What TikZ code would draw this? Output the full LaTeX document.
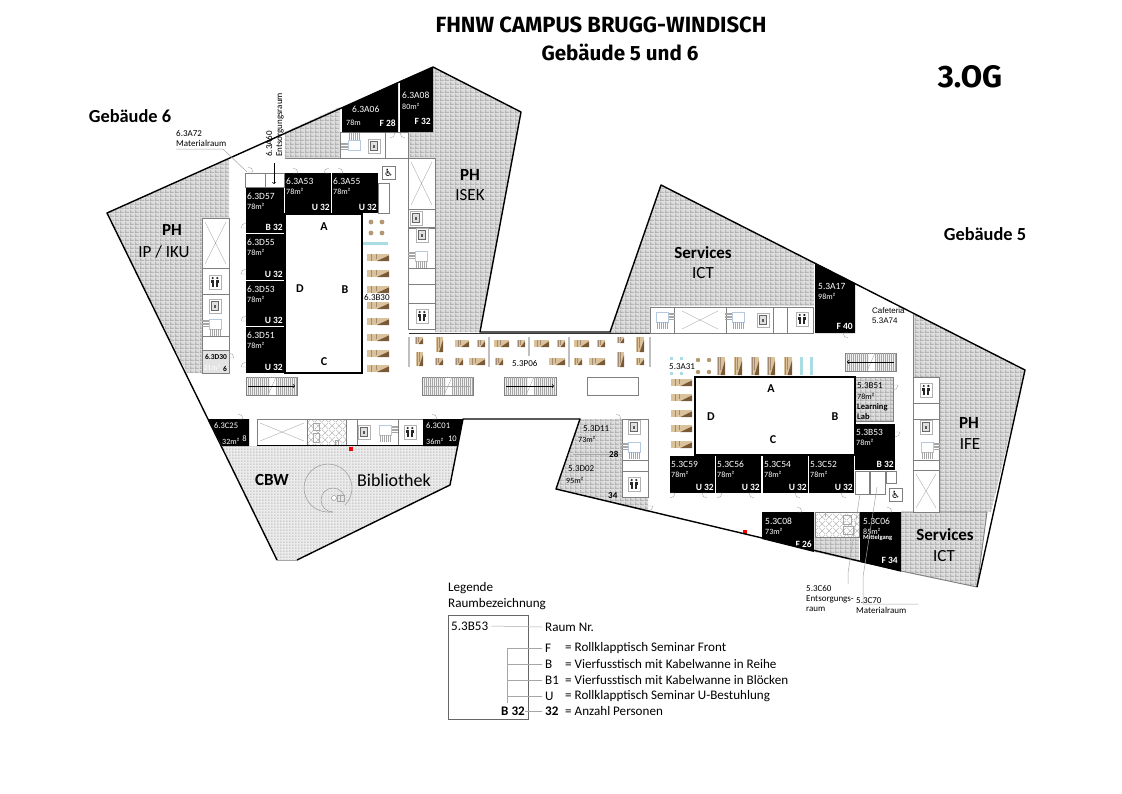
\documentclass[tikz,border=0pt]{standalone}
\usepackage{fontspec}
\setmainfont{Carlito}
\newfontfamily\headfont{Fira Sans}
\newfontfamily\arialfont{Liberation Sans}
\newfontfamily\symfont{DejaVu Sans}
\usepackage{xcolor}
\usetikzlibrary{patterns,arrows}

\definecolor{wallgray}{HTML}{7F7F7F}
\definecolor{hatchbase}{HTML}{DEDEDE}
\definecolor{hatchline}{HTML}{A6A6A6}
\definecolor{tableA}{HTML}{D9C29C}
\definecolor{tableB}{HTML}{7A5A36}
\definecolor{glassblue}{HTML}{A9DCE3}
\definecolor{stairblue}{HTML}{B7C9DE}

\pgfdeclarepatternformonly{brickfill}{\pgfpointorigin}{\pgfqpoint{5pt}{4pt}}{\pgfqpoint{5pt}{4pt}}{
  \pgfsetlinewidth{0.9pt}
  \pgfpathmoveto{\pgfqpoint{0pt}{1pt}}\pgfpathlineto{\pgfqpoint{5pt}{1pt}}
  \pgfpathmoveto{\pgfqpoint{1pt}{0pt}}\pgfpathlineto{\pgfqpoint{1pt}{4pt}}
  \pgfusepath{stroke}}
\pgfdeclarepatternformonly{dotfill}{\pgfpointorigin}{\pgfqpoint{2.5pt}{2.5pt}}{\pgfqpoint{2.5pt}{2.5pt}}{
  \pgfpathrectangle{\pgfqpoint{0.4pt}{0.4pt}}{\pgfqpoint{1.2pt}{1.2pt}}
  \pgfusepath{fill}}
\pgfdeclarepatternformonly{crossfill}{\pgfpointorigin}{\pgfqpoint{7pt}{7pt}}{\pgfqpoint{7pt}{7pt}}{
  \pgfsetlinewidth{0.4pt}
  \pgfpathmoveto{\pgfqpoint{0pt}{0pt}}\pgfpathlineto{\pgfqpoint{7pt}{7pt}}
  \pgfpathmoveto{\pgfqpoint{0pt}{7pt}}\pgfpathlineto{\pgfqpoint{7pt}{0pt}}
  \pgfusepath{stroke}}

% black seminar room with its three labels
\newcommand{\blackroom}[8]{
  \fill[roomfill] (#2,#3) rectangle (#4,#5);
  \node[roomlabel] (#1) at (#2+1,#3+8) {#6};
  \node[roomarea] (#1area) at (#2+1,#3+18) {#7};
  \node[roomseat] (#1seat) at (#4-1,#5-6) {#8};
}
\newcommand{\doorarc}[4]{\draw[doorline,shift={(#1,#2)},xscale=#3,yscale=#4] (0,0) -- (5,0) arc (0:90:5);}
\newcommand{\liftbox}[2]{
  \draw[iconbox] (#1-6,#2-7) rectangle (#1+6,#2+7);
  \draw[gray!80!black,line width=0.9pt,fill=gray!25] (#1-3.5,#2-4.5) rectangle (#1+3.5,#2+4.5);
  \fill[gray!70!black] (#1-1.2,#2-1.5) rectangle (#1+1.2,#2+1.5);
}
\newcommand{\wcbox}[2]{
  \draw[iconbox] (#1-6,#2-7) rectangle (#1+6,#2+7);
  \foreach \dx in {-2.3,2.3}{
    \fill[black!85] (#1+\dx,#2-4) circle (1.2);
    \fill[black!85] (#1+\dx-1.6,#2-2.5) rectangle (#1+\dx+1.6,#2+1);
    \fill[black!85] (#1+\dx-1,#2+1) rectangle (#1+\dx+1,#2+4.5);
  }
}
\newcommand{\voidbox}[4]{
  \draw[wall,fill=white] (#1,#2) rectangle (#3,#4);
  \draw[thinline] (#1+3,#2+4) -- (#3-3,#4-4) (#1+3,#4-4) -- (#3-3,#2+4);
}
% table top with the dark wedge of its photo
\newcommand{\tabletop}[4]{
  \fill[tableA] (#1,#2) rectangle ++(#3,#4);
  \fill[tableB] (#1+0.45*#3,#2+#4) -- (#1+#3,#2+0.2*#4) -- (#1+#3,#2+#4) -- cycle;
  \draw[tableB!70,line width=0.3pt] (#1+0.2*#3,#2) -- (#1+0.2*#3,#2+#4) (#1+0.4*#3,#2) -- (#1+0.4*#3,#2+0.7*#4);
}
% stairs in the service cores, #3 and #4 are 1 or -1 for the mirror
\newcommand{\corestair}[4]{
  \begin{scope}[shift={(#1,#2)},xscale=#3,yscale=#4]
    \foreach \i in {1,2.5,4,5.5,7}{\draw[thinline] (-13,\i) -- (-6,\i);}
    \draw[stairblue,fill=white] (-6,0) rectangle (6,10);
    \foreach \i in {-5,-3,-1,1,3,5}{\draw[thinline] (\i,10) -- (\i,17);}
  \end{scope}
}
% long flight of stairs, #5 is the style of the middle line
\newcommand{\longstair}[5]{
  \draw[stairline,fill=gray!12] (#1,#2) rectangle (#3,#4);
  \foreach \i in {2,4,...,50}{\draw[thinline] (#1+\i,#2) -- (#1+\i,#4);}
  \fill[white] (#1+24,#2+0.5) rectangle (#1+30,#4-0.5);
  \draw[thinline] (#1+22,#4) -- (#1+30,#2);
  \draw[line width=0.6pt,>=to,#5] (#1+2,#2+9) -- (#3-2,#2+9);
}

\begin{document}
\begin{tikzpicture}[
    x=1pt, y=-1pt,
    brick/.style={fill=hatchbase, postaction={pattern=brickfill, pattern color=hatchline}},
    dotted fill/.style={fill=hatchbase!60!white, postaction={pattern=dotfill, pattern color=hatchline}},
    roomfill/.style={fill=black},
    roomlabel/.style={anchor=west, text=white, font=\fontsize{9.5}{9.5}\selectfont, inner sep=0pt},
    roomarea/.style={anchor=west, text=white, font=\fontsize{8}{8}\selectfont, inner sep=0pt},
    roomseat/.style={anchor=east, text=white, font=\fontsize{9.5}{9.5}\selectfont\bfseries, inner sep=0pt},
    darklabel/.style={anchor=west, font=\fontsize{9}{9}\selectfont, inner sep=0pt},
    wall/.style={draw=wallgray, line width=0.9pt},
    thinline/.style={draw=gray!70, line width=0.35pt},
    stairline/.style={draw=gray, line width=0.7pt},
    outline/.style={draw=black, line width=1.4pt, line join=round},
    doorline/.style={draw=gray!70, line width=0.4pt},
    iconbox/.style={draw=gray!60, line width=0.6pt, fill=white},
    leader/.style={draw=gray!70, line width=0.5pt},
    bigname/.style={font=\fontsize{17}{17}\selectfont\bfseries, inner sep=0pt},
    usename/.style={font=\fontsize{17}{17}\selectfont, inner sep=0pt},
    legendtext/.style={anchor=west, font=\fontsize{13.1}{14}\selectfont, inner sep=0pt},
    smalltext/.style={anchor=west, font=\fontsize{9}{10}\selectfont, inner sep=0pt},
    letter/.style={font=\fontsize{12}{12}\selectfont\bfseries, inner sep=0pt}
]
    \useasboundingbox (0,0) rectangle (1122,793);

    % --- hatched user areas
    \fill[brick] (107,213) -- (229,159) -- (229,373) -- (187,373) -- cycle;
    \fill[brick] (285,132) -- (340,107) -- (340,158) -- (285,158) -- cycle;
    \fill[brick] (433,67) -- (521,112) -- (480,332) -- (435,332) -- (435,158) -- (408,158) -- (408,132) -- (433,132) -- cycle;
    \fill[brick] (661,185) -- (814,263) -- (814,306) -- (650,306) -- (650,333) -- (610,333) -- cycle;
    \fill[brick] (913,313) -- (1025,370) -- (991,512) -- (939,512) -- (939,377) -- (913,377) -- cycle;
    \fill[brick] (901,512) -- (987,512) -- (977,587) -- (901,571) -- cycle;
    \fill[brick] (815,538) -- (859,538) -- (859,562) -- (815,552) -- cycle;
    \fill[brick] (580,419) -- (622,419) -- (622,497) -- (648,497) -- (648,512) -- (556,489) -- cycle;
    \fill[dotted fill] (222,446) -- (458,446) -- (450,485) -- (297,560) -- (277,560) -- cycle;
    \fill[brick] (855,377) rectangle (893,421);
    \draw[wall] (855,377) rectangle (893,421);
    \draw[wall] (987,512) -- (977,587) -- (901,571) (901,512) -- (987,512);

    % --- service core Gebaeude 6 west
    \voidbox{202}{218}{229}{268}
    \draw[wall,fill=white] (202,268) rectangle (229,294);
    \draw[wall,fill=white] (202,294) rectangle (229,350);
    \wcbox{215}{282}
    \liftbox{215}{306}
    \corestair{215}{319}{1}{1}
    \draw[wall] (202,336) -- (229,336);
    \fill[gray!22] (202,350) rectangle (229,373);
    \draw[wall] (202,350) rectangle (229,373);
    \node[font=\fontsize{7.5}{8}\selectfont\bfseries,inner sep=0pt] (d30) at (216,357) {6.3D30};
    \node[font=\fontsize{7.5}{8}\selectfont,text=white,inner sep=0pt] (d30area) at (212,368) {21m²};
    \node[font=\fontsize{7.5}{8}\selectfont\bfseries,inner sep=0pt] (d30seat) at (225,369) {6};

    % --- service core Gebaeude 6 east
    \voidbox{408}{158}{435}{209}
    \draw[wall,fill=white] (408,209) rectangle (435,227);
    \draw[wall,fill=white] (408,228) rectangle (435,329);
    \liftbox{416}{218}
    \liftbox{422}{235}
    \corestair{421}{251}{1}{1}
    \draw[wall] (408,268) -- (435,268) (408,284) -- (435,284) (408,303) -- (435,303);
    \wcbox{422}{316}

    % --- north core
    \draw[wall,fill=white] (340,132) rectangle (408,158);
    \corestair{354}{150}{1}{-1}
    \liftbox{374}{146}
    \draw[wall] (385,132) -- (385,158);
    \draw[wall] (285,158) -- (340,158);

    % --- seminar rooms Gebaeude 6
    \fill[roomfill] (342,108) -- (398,82) -- (398,132) -- (342,132) -- cycle;
    \node[roomlabel] (a06) at (352,109) {6.3A06};
    \node[roomarea] (a06area) at (346,123) {78m};
    \node[roomseat] (a06seat) at (396,123) {F 28};
    \fill[roomfill] (400,81) -- (433,67) -- (433,132) -- (400,132) -- cycle;
    \node[roomlabel] (a08) at (402,95) {6.3A08};
    \node[roomarea] (a08area) at (402,106) {80m²};
    \node[roomseat] (a08seat) at (431,121) {F 32};

    \draw[wall] (245,173) rectangle (265,187) (265,173) rectangle (284,187);
    \blackroom{d57}{246}{188}{284}{233}{6.3D57}{78m²}{B 32}
    \blackroom{d55}{246}{234}{284}{280}{6.3D55}{78m²}{U 32}
    \blackroom{d53}{246}{281}{284}{326}{6.3D53}{78m²}{U 32}
    \blackroom{d51}{246}{327}{284}{373}{6.3D51}{78m²}{U 32}
    \blackroom{a53}{285}{173}{331}{213}{6.3A53}{78m²}{U 32}
    \blackroom{a55}{332}{173}{378}{213}{6.3A55}{78m²}{U 32}
    \draw[wall] (378,183) rectangle (389,213);
    \draw[wall,fill=white] (382,166) rectangle (395,179);
    \node[font=\symfont\fontsize{10}{10}\selectfont,inner sep=0pt] (wheel6) at (388.5,172.5) {♿};
    \draw[black,line width=1.2pt,fill=white] (285,214) rectangle (362,373);
    \node[letter] (ga) at (324,227) {A};
    \node[letter] (gd) at (300,289) {D};
    \node[letter] (gb) at (345,290) {B};
    \node[letter] (gc) at (324,362) {C};

    % --- south band Gebaeude 6
    \fill[roomfill] (208,419) -- (249,419) -- (249,446) -- (222,446) -- cycle;
    \node[roomlabel,font=\fontsize{8.5}{8.5}\selectfont] (c25) at (214,426) {6.3C25};
    \node[roomarea] (c25area) at (222,441) {32m²};
    \node[roomseat,font=\fontsize{8.5}{8.5}\selectfont] (c25seat) at (247,439) {8};
    \voidbox{257}{419}{307}{445}
    \draw[wall,pattern=crossfill,pattern color=gray!70] (307,419) rectangle (346,445);
    \draw[wall] (346,419) rectangle (423,445) (357,419) -- (357,445) (398,419) -- (398,445);
    \draw[thinline] (313,423) rectangle (319,430) (313,433) rectangle (319,442) (335,440) rectangle (338,445);
    \liftbox{364}{432}
    \corestair{385}{425}{-1}{1}
    \wcbox{410}{432}
    \draw[black,line width=0.8pt] (257,445.5) -- (423,445.5);
    \fill[roomfill] (423,419) -- (463,419) -- (458,446) -- (423,446) -- cycle;
    \node[roomlabel,font=\fontsize{8.5}{8.5}\selectfont] (c01) at (426,426) {6.3C01};
    \node[roomarea] (c01area) at (426,441) {36m²};
    \node[roomseat,font=\fontsize{8.5}{8.5}\selectfont] (c01seat) at (457,439) {10};
    \fill[red] (349,447) rectangle (353,451);
    \fill[red] (743,530) rectangle (747,534);

    % --- spiral stair
    \draw[gray!80,line width=0.5pt] (345,505) arc (45:-270:24) -- (333,512);
    \draw[gray!80,line width=0.5pt] (333,512) arc (90:360:12);
    \draw[gray!80,fill=white,line width=0.5pt] (334,498) circle (2.5);
    \draw[thinline] (337,495) rectangle (344,501) (340,495) -- (340,501);

    % --- furniture
    \foreach \y in {254,270,286,302,318,334,350,365}{
      \tabletop{367}{\y}{22}{7}
    }
    \foreach \x/\y in {371/222,382/222,371/233,382/233}{
      \fill[tableA!60!tableB] (\x,\y) circle (2.4);
    }
    \fill[glassblue] (363,241.5) rectangle (388,244.5);
    \foreach \x/\y/\w/\h in {415/337/8/7,436/337/7/15,416/352/7/14,455/340/14/7,477/340/8/7,494/340/15/7,517/340/8/7,534/340/15/7,557/340/8/7,574/340/15/7,597/340/8/7,435/358/8/7,455/358/8/7,469/358/16/7,495/358/8/7,549/358/16/7,574/358/8/7,589/358/16/7,617/337/7/6,636/337/8/15,617/352/7/15,636/358/8/7}{
      \tabletop{\x}{\y}{\w}{\h}
    }
    \foreach \x in {409,489,569,650}{
      \fill[gray!50] (\x-0.7,337) rectangle (\x+0.7,367);
    }
    \fill[gray!50] (528.3,337) rectangle (529.7,356);
    \foreach \x in {717,734,751,767,784}{
      \tabletop{\x}{357}{8}{18}
    }
    \foreach \x in {800,810}{
      \fill[glassblue] (\x,357) rectangle (\x+3,375);
    }
    \foreach \x/\y in {698/360,709/360,698/372,709/372}{
      \fill[tableA!60!tableB] (\x,\y) circle (2.2);
    }
    \foreach \x/\y in {671/358,681/358,671/373,681/373}{
      \fill[glassblue] (\x-1.5,\y-1.5) rectangle (\x+1.5,\y+1.5);
    }
    \foreach \y in {379,394,410,425,441}{
      \tabletop{671}{\y}{21}{7}
    }

    % --- long stairs
    \longstair{246}{377}{297}{395}{black,->}
    \longstair{422}{377}{473}{395}{gray!70}
    \longstair{504}{377}{556}{395}{black,->}
    \draw[stairline] (587,377) rectangle (638,395);
    \longstair{845}{353}{896}{371}{black,<-}

    % --- Gebaeude 5 north band
    \draw[wall,fill=white] (650,307) rectangle (813,333);
    \draw[wall] (674,307) -- (674,333) (726,307) -- (726,333) (773,307) -- (773,333) (787,307) -- (787,333);
    \corestair{662}{312}{-1}{1}
    \draw[thinline] (682,311) -- (718,329) (682,329) -- (718,311);
    \corestair{738}{312}{1}{1}
    \liftbox{763}{320}
    \wcbox{802}{319}
    \fill[roomfill] (815,263) -- (855,283) -- (855,333) -- (815,333) -- cycle;
    \node[roomlabel] (a17) at (818,286) {5.3A17};
    \node[roomarea] (a17area) at (818,296) {98m²};
    \node[roomseat] (a17seat) at (853,326) {F 40};
    \draw[wall] (913,313) -- (913,377);

    % --- Gebaeude 5 centre
    \draw[black,line width=1.2pt,fill=white] (695,377) rectangle (855,455);
    \node[letter] (ea) at (771,389) {A};
    \node[letter] (ed) at (711,417) {D};
    \node[letter] (eb) at (835,417) {B};
    \node[letter] (ec) at (773,440) {C};
    \node[darklabel] (b51) at (857,386) {5.3B51};
    \node[anchor=west,font=\fontsize{8}{8}\selectfont,inner sep=0pt] (b51area) at (857,396) {78m²};
    \node[anchor=west,font=\fontsize{8.5}{8.5}\selectfont\bfseries,inner sep=0pt] (b51lab) at (857,407) {Learning};
    \node[anchor=west,font=\fontsize{8.5}{8.5}\selectfont\bfseries,inner sep=0pt] (b51lab2) at (857,417) {Lab};
    \blackroom{b53}{855}{424}{895}{470}{5.3B53}{78m²}{B 32}
    \blackroom{c59}{670}{456}{715}{493}{5.3C59}{78m²}{U 32}
    \blackroom{c56}{716}{456}{761}{493}{5.3C56}{78m²}{U 32}
    \blackroom{c54}{763}{456}{808}{493}{5.3C54}{78m²}{U 32}
    \blackroom{c52}{809}{456}{854}{493}{5.3C52}{78m²}{U 32}
    \draw[wall] (855,471) rectangle (869,494) (870,471) rectangle (885,494) (886,471) rectangle (896,483);
    \draw[wall,fill=white] (889,488) rectangle (902,501);
    \node[font=\symfont\fontsize{10}{10}\selectfont,inner sep=0pt] (wheel5) at (895.5,494.5) {♿};

    % --- service core Gebaeude 5 east
    \draw[wall,fill=white] (913,377) rectangle (939,403);
    \draw[wall,fill=white] (913,403) rectangle (939,419);
    \draw[wall,fill=white] (913,419) rectangle (939,460);
    \voidbox{913}{470}{939}{512}
    \draw[wall] (913,460) rectangle (939,470);
    \wcbox{926}{390}
    \liftbox{926}{427}
    \corestair{927}{442}{-1}{1}

    % --- service core Gebaeude 5 west
    \draw[wall,fill=white] (622,419) rectangle (648,497);
    \draw[wall] (622,460) -- (648,460) (622,471) -- (648,471);
    \liftbox{634}{427}
    \corestair{634}{442}{1}{1}
    \wcbox{634}{484}
    \draw[hatchline,line width=1pt] (573,454) -- (622,454);

    % --- south rooms Gebaeude 5
    \fill[roomfill] (762,512) -- (814,512) -- (814,552) -- (762,539) -- cycle;
    \node[roomlabel] (c08) at (765,521) {5.3C08};
    \node[roomarea] (c08area) at (765,531) {73m²};
    \node[roomseat] (c08seat) at (812,544) {F 26};
    \draw[wall,pattern=crossfill,pattern color=gray!70] (815,512) rectangle (859,537);
    \draw[thinline] (843,515) rectangle (851,524) (843,526) rectangle (853,534) (825,512) -- (825,517);
    \fill[roomfill] (860,512) -- (901,512) -- (901,571) -- (860,562) -- cycle;
    \node[roomlabel] (c06) at (863,521) {5.3C06};
    \node[roomarea] (c06area) at (863,531) {85m²};
    \node[anchor=west,text=white,font=\fontsize{6.5}{7}\selectfont\bfseries,inner sep=0pt] (c06text) at (863,537.5) {Mittelgang};
    \node[roomseat] (c06seat) at (898,560) {F 34};

    % --- doors
    \foreach \x/\y/\sx/\sy in {248/172/1/-1,293/173/1/-1,329/173/-1/-1,338/173/1/-1,246/228/-1/-1,246/274/-1/-1,246/321/-1/-1,246/367/-1/-1,229/358/1/-1,238/419/1/-1,432/419/1/-1,848/333/-1/1,893/385/1/1,895/432/1/1,616/419/1/-1,648/506/1/1,670/493/1/1,707/493/-1/1,717/493/1/1,754/493/-1/1,800/493/-1/1,846/493/-1/1,797/512/1/-1,887/512/1/-1,390/133/1/1,405/133/-1/1}{
      \doorarc{\x}{\y}{\sx}{\sy}
    }

    % --- outer walls
    \draw[outline] (277,560) -- (107,213) -- (433,67) -- (521,112) -- (480,332) -- (610,332) -- (661,185) -- (1025,370) -- (977,587);
    \draw[outline] (901,571) -- (556,489) -- (580,419) -- (463,419) -- (450,485) -- (297,560);
    \draw[thinline] (277,560) -- (297,560);
    \draw[black!80,line width=0.9pt] (409,333) -- (650,333);

    % --- room texts
    \node[darklabel] (b30) at (364,297) {6.3B30};
    \node[darklabel] (a31) at (669,367) {5.3A31};
    \node[darklabel] (p06) at (512,363) {5.3P06};
    \node[darklabel] (d11) at (583,429) {5.3D11};
    \node[anchor=west,font=\fontsize{8}{8}\selectfont,inner sep=0pt] (d11area) at (578,439) {73m²};
    \node[anchor=west,font=\fontsize{9}{9}\selectfont\bfseries,inner sep=0pt] (d11seat) at (609,454) {28};
    \node[darklabel] (d02) at (568,469) {5.3D02};
    \node[anchor=west,font=\fontsize{8}{8}\selectfont,inner sep=0pt] (d02area) at (566,480) {95m²};
    \node[anchor=west,font=\fontsize{9}{9}\selectfont\bfseries,inner sep=0pt] (d02seat) at (608,496) {34};
    \node[anchor=west,font=\arialfont\fontsize{8}{10}\selectfont,inner sep=0pt,align=left] (caf) at (872,316) {Cafeteria\\5.3A74};

    \node[bigname] (ph1) at (172,230) {PH};
    \node[usename] (ph1b) at (164,252) {IP / IKU};
    \node[bigname] (ph2) at (470,175) {PH};
    \node[usename] (ph2b) at (470,195) {ISEK};
    \node[bigname] (sv1) at (703,253) {Services};
    \node[usename] (sv1b) at (703,273) {ICT};
    \node[bigname] (ph3) at (969,423) {PH};
    \node[usename] (ph3b) at (970,444) {IFE};
    \node[bigname] (sv2) at (945,535) {Services};
    \node[usename] (sv2b) at (944,556) {ICT};
    \node[bigname] (cbw) at (272,480) {CBW};
    \node[usename,font=\fontsize{18}{18}\selectfont] (bib) at (394,480) {Bibliothek};

    % --- outside labels with leaders
    \node[smalltext,align=left] (a72) at (176,138.5) {6.3A72\\Materialraum};
    \coordinate (a72end) at (247,172);
    \draw[leader] (176,149) -- (223,149) -- (a72end);
    \node[rotate=90,font=\fontsize{9}{9}\selectfont,inner sep=0pt,anchor=west] (a60) at (269,157) {6.3A60};
    \node[rotate=90,font=\fontsize{9}{9}\selectfont,inner sep=0pt,anchor=west] (a60b) at (280,157) {Entsorgungsraum};
    \coordinate (a60end) at (274,184);
    \coordinate (a60top) at (274,163);
    \draw[->,>=to,line width=0.6pt] (a60top) -- (a60end);

    \node[smalltext,align=left] (c60) at (806,598) {5.3C60\\Entsorgungs-\\raum};
    \node[smalltext,align=left] (c70) at (856,606) {5.3C70\\Materialraum};
    \coordinate (c60end) at (860,494);
    \coordinate (c70end) at (877,487);
    \draw[leader] (c60end) -- (848,573) -- (848,584);
    \draw[leader] (c70end) -- (863,577) -- (863,604) -- (918,604);

    % --- headings
    \node[font=\headfont\fontsize{22}{22}\selectfont\bfseries,inner sep=0pt] (title) at (601,25) {FHNW CAMPUS BRUGG-WINDISCH};
    \node[font=\headfont\fontsize{20.6}{21}\selectfont\bfseries,inner sep=0pt] (subtitle) at (620,52) {Gebäude 5 und 6};
    \node[font=\headfont\fontsize{31}{31}\selectfont\bfseries,inner sep=0pt] (floor) at (970,77) {3.OG};
    \node[font=\fontsize{18.4}{18}\selectfont\bfseries,inner sep=0pt] (g6) at (130,116) {Gebäude 6};
    \node[font=\fontsize{18.4}{18}\selectfont\bfseries,inner sep=0pt] (g5) at (985,234) {Gebäude 5};

    % --- legend
    \node[legendtext] (leg1) at (448,588) {Legende};
    \node[legendtext] (leg2) at (448,604) {Raumbezeichnung};
    \draw[draw=gray!80!black,line width=0.9pt] (448,615) rectangle (528,719);
    \node[legendtext] (legroom) at (451,626) {5.3B53};
    \node[legendtext,anchor=east,font=\fontsize{13.1}{14}\selectfont\bfseries] (legseat) at (525,711) {B 32};
    \node[legendtext] (lnr) at (545,627) {Raum Nr.};
    \node[legendtext] (lf) at (545,648) {F};
    \node[legendtext] (lb) at (545,664) {B};
    \node[legendtext] (lbb) at (545,680) {B1};
    \node[legendtext] (lu) at (545,696) {U};
    \node[legendtext,font=\fontsize{13.1}{14}\selectfont\bfseries] (lp) at (545,711) {32};
    \node[legendtext] (tf) at (565,648) {= Rollklapptisch Seminar Front};
    \node[legendtext] (tb) at (565,664) {= Vierfusstisch mit Kabelwanne in Reihe};
    \node[legendtext] (tbb) at (565,680) {= Vierfusstisch mit Kabelwanne in Blöcken};
    \node[legendtext] (tu) at (565,696) {= Rollklapptisch Seminar U-Bestuhlung};
    \node[legendtext] (tp) at (565,711) {= Anzahl Personen};
    \coordinate (legfoot) at (507,703);
    \coordinate (legb) at (507,664);
    \coordinate (legbb) at (507,680);
    \coordinate (legu) at (507,696);
    \draw[leader] (legroom.east) ++(3,0) -- ([xshift=-3pt]lnr.west);
    \draw[leader] (legfoot) -- (507,648) -- ([xshift=-3pt]lf.west);
    \draw[leader] (legb) -- ([xshift=-3pt]lb.west);
    \draw[leader] (legbb) -- ([xshift=-3pt]lbb.west);
    \draw[leader] (legu) -- ([xshift=-3pt]lu.west);
    \draw[leader] (legseat.east) -- ([xshift=-3pt]lp.west);
\end{tikzpicture}
\end{document}
